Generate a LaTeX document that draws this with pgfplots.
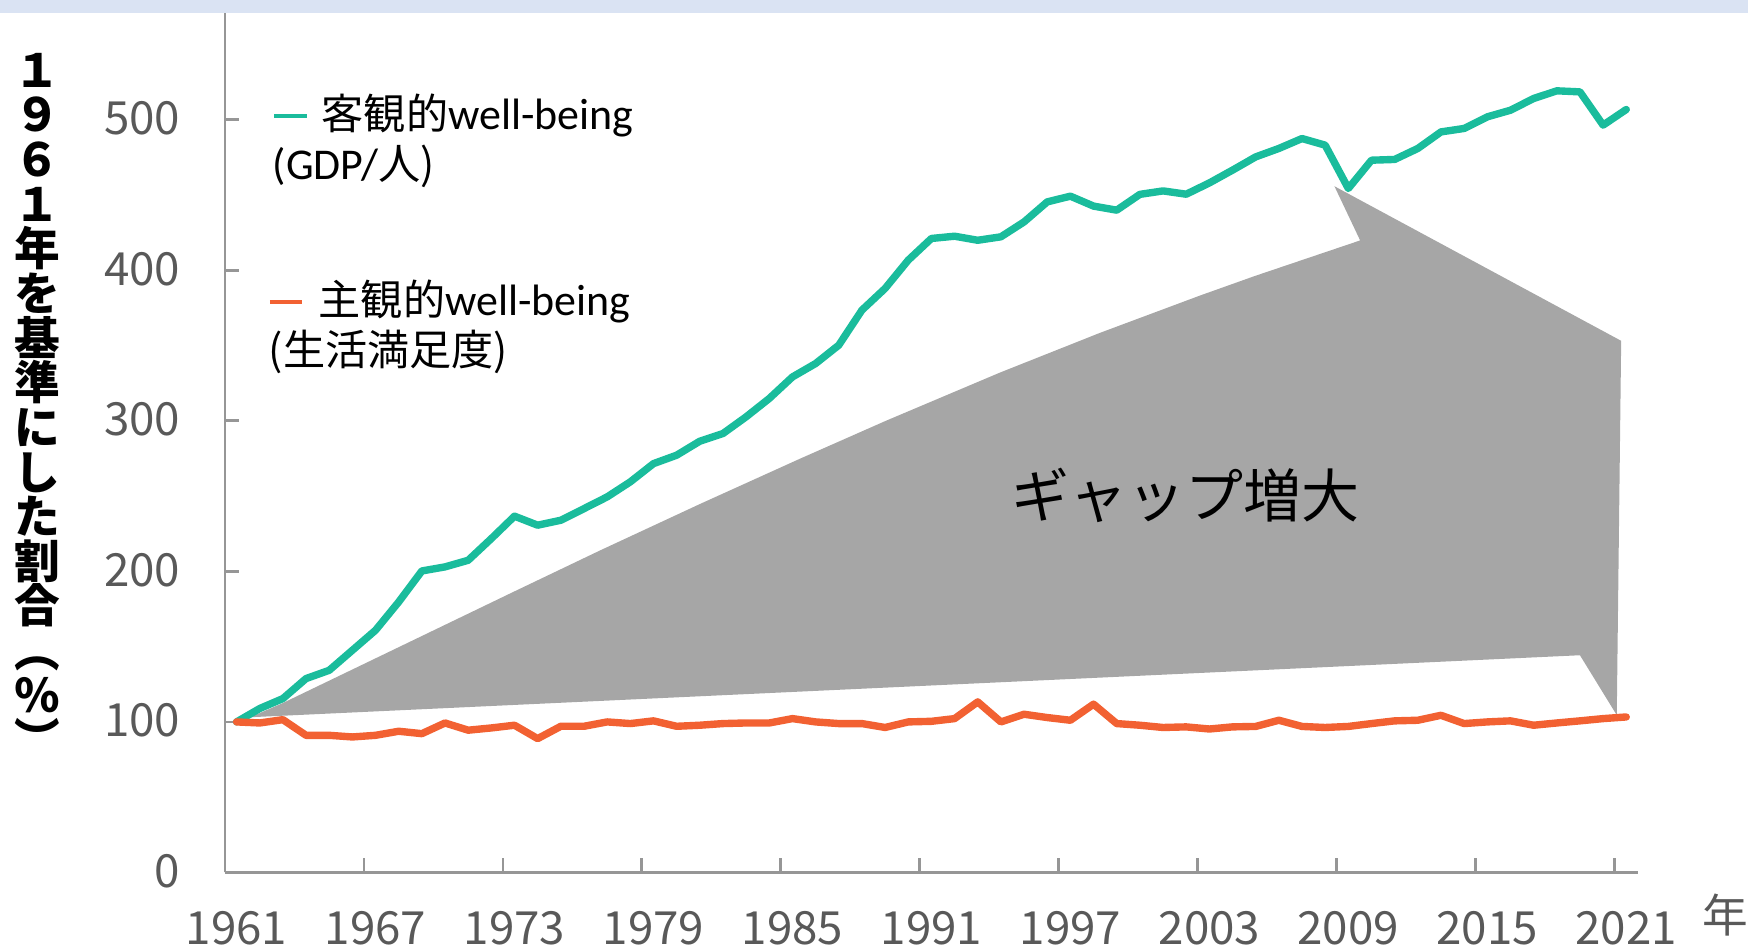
\documentclass[border=0pt]{standalone}
\usepackage{fontspec}
\setmainfont{Noto Sans CJK JP}
\newfontfamily\lat{Carlito}
\usepackage{pgfplots}
\pgfplotsset{compat=1.18}
\definecolor{gdpteal}{RGB}{26,188,156}
\definecolor{lsorange}{RGB}{242,97,50}
\definecolor{gapgray}{RGB}{166,166,166}
\definecolor{bandblue}{RGB}{218,227,243}
\definecolor{axisgray}{RGB}{150,150,150}
\definecolor{labgray}{RGB}{89,89,89}
\begin{document}
\begin{tikzpicture}
\begin{axis}[
  at={(2.25cm,0.795cm)}, anchor=south west,
  scale only axis, width=14.13cm, height=8.595cm,
  xmin=1960.5, xmax=2021.5, ymin=0, ymax=571,
  axis x line*=bottom, axis y line*=left,
  axis line style={draw=axisgray, line width=0.8pt},
  tick align=inside,
  major tick length=0.14cm,
  tick style={draw=axisgray, line width=0.8pt},
  xtick={1960.5,1966.5,1972.5,1978.5,1984.5,1990.5,1996.5,2002.5,2008.5,2014.5,2020.5},
  xticklabels={1961,1967,1973,1979,1985,1991,1997,2003,2009,2015,2021},
  ytick={0,100,200,300,400,500},
  /pgf/number format/assume math mode=true,
  tick label style={font=\fontsize{13}{15}\selectfont, text=labgray, inner sep=0pt},
  xticklabel style={anchor=base, xshift=0.1158cm, yshift=-0.725cm},
  yticklabel style={anchor=base east, xshift=-0.44cm, yshift=-0.15cm},
  clip=false,
]
% gap shape
\addplot[fill=gapgray, draw=none] coordinates {
 (1961.58,103.1) (1962.95,112.2) (1968.06,150.1) (1972.94,186.3)
 (1976.69,213.9) (1981.01,244.8) (1985.33,274.9) (1989.04,300.1)
 (1993.96,332.1) (1998.28,358.5) (2002.60,383.3) (2004.97,396.3)
 (2009.51,419.9)
 (2008.40,455.9) (2020.78,353.2) (2020.59,104.5) (2019.00,144.3)
} -- cycle;
% objective well-being (GDP per capita)
\addplot[draw=gdpteal, line width=2.1pt, line join=round, line cap=round] coordinates {
 (1961,100) (1962,108.9) (1963,115.5) (1964,128.8) (1965,134.3) (1966,147.6)
 (1967,160.9) (1968,179.7) (1969,200.3) (1970,203) (1971,207.4) (1972,221.8)
 (1973,236.7) (1974,230.7) (1975,234) (1976,241.7) (1977,249.5) (1978,259.5)
 (1979,271.6) (1980,277.2) (1981,286.5) (1982,291.6) (1983,302.7) (1984,314.9)
 (1985,329.2) (1986,338.1) (1987,350.3) (1988,373.6) (1989,388) (1990,406.8)
 (1991,421.2) (1992,422.7) (1993,420) (1994,422.3) (1995,432.2) (1996,445.5)
 (1997,449.3) (1998,442.7) (1999,440) (2000,450.5) (2001,452.8) (2002,450.6)
 (2003,458.1) (2004,466.6) (2005,475.4) (2006,481) (2007,487.6) (2008,483.2)
 (2009,454.4) (2010,473.2) (2011,473.7) (2012,481) (2013,492) (2014,494.3)
 (2015,502) (2016,506.4) (2017,514.2) (2018,519.3) (2019,518.6) (2020,496.5)
 (2021,506.9)
};
% subjective well-being (life satisfaction)
\addplot[draw=lsorange, line width=2.1pt, line join=round, line cap=round] coordinates {
 (1961,100) (1962,99.3) (1963,101.5) (1964,91.1) (1965,91.1) (1966,90.0)
 (1967,91.1) (1968,93.8) (1969,92.2) (1970,99.3) (1971,94.5) (1972,96)
 (1973,97.8) (1974,88.9) (1975,97.1) (1976,97.1) (1977,100) (1978,98.9)
 (1979,100.7) (1980,97.1) (1981,97.8) (1982,98.9) (1983,99.3) (1984,99.3)
 (1985,102.2) (1986,100) (1987,98.9) (1988,98.9) (1989,96.3) (1990,100)
 (1991,100.4) (1992,102.2) (1993,113.3) (1994,100) (1995,105.1) (1996,102.9)
 (1997,101.1) (1998,111.8) (1999,98.9) (2000,97.8) (2001,96.3) (2002,96.7)
 (2003,95.3) (2004,96.7) (2005,97) (2006,101.1) (2007,97) (2008,96.3)
 (2009,97) (2010,98.9) (2011,100.7) (2012,101.1) (2013,104.4) (2014,98.9)
 (2015,100) (2016,100.7) (2017,97.8) (2018,99.3) (2019,100.7) (2020,102.2)
 (2021,103.3)
};
% annotation
\node[font=\fontsize{16.5}{18}\selectfont, text=black, inner sep=0pt] at (axis cs:2001.95,250.2) {ギャップ増大};
% legend
\draw[gdpteal, line width=1pt] (axis cs:1962.62,502.7) -- (axis cs:1964.04,502.7);
\node[anchor=west, inner sep=0pt, font=\fontsize{12}{14}\selectfont] at (axis cs:1964.65,502.7) {客観的{\lat\fontsize{12.5}{14}\selectfont well-being}};
\node[anchor=west, inner sep=0pt, font=\fontsize{12}{14}\selectfont] at (axis cs:1962.53,468.8) {{\lat\fontsize{12.5}{14}\selectfont (GDP/}人)};
\draw[lsorange, line width=1pt] (axis cs:1962.44,379.1) -- (axis cs:1963.82,379.1);
\node[anchor=west, inner sep=0pt, font=\fontsize{12}{14}\selectfont] at (axis cs:1964.52,379.1) {主観的{\lat\fontsize{12.5}{14}\selectfont well-being}};
\node[anchor=west, inner sep=0pt, font=\fontsize{12}{14}\selectfont] at (axis cs:1962.36,345.8) {(生活満足度)};
% x unit
\node[inner sep=0pt, font=\fontsize{13}{15}\selectfont, text=labgray] at (axis cs:2025.27,-28) {年};
\end{axis}
% y label (vertical)
\node[inner sep=0pt, align=center, font=\fontsize{13}{12.7}\selectfont\bfseries] at (0.37,5.47)
 {１\\９\\６\\１\\年\\を\\基\\準\\に\\し\\た\\割\\合\\︵\\％\\︶};
% top band
\fill[bandblue] (0,9.39) rectangle (17.48,9.52);
\path[use as bounding box] (0,0) rectangle (17.48,9.52);
\end{tikzpicture}
\end{document}
